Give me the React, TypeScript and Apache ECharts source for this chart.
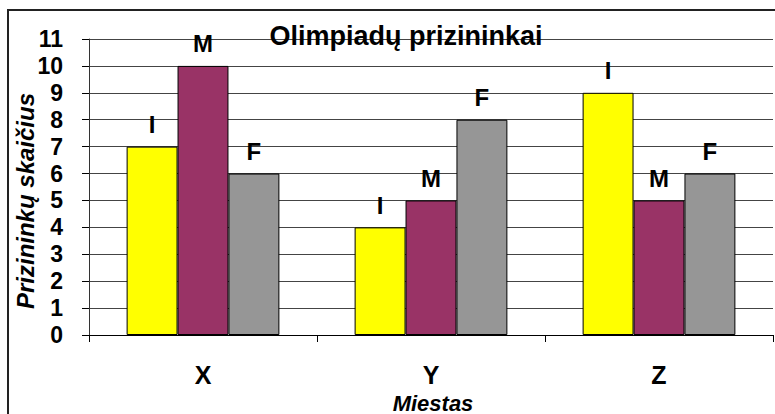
import React, { useEffect, useRef } from "react";
import * as echarts from "echarts";

const categories = ["X", "Y", "Z"];
const seriesNames = ["I", "M", "F"];
const valuesI = [7, 4, 9];
const valuesM = [10, 5, 5];
const valuesF = [6, 8, 6];
const colors = ["#FFFF00", "#993366", "#969696"];

export default function App() {
  const ref = useRef<HTMLDivElement>(null);
  useEffect(() => {
    if (!ref.current) return;
    const chart = echarts.init(ref.current, null, { renderer: "svg" });
    const font = "Liberation Sans, Arial, sans-serif";
    const data = [valuesI, valuesM, valuesF];
    chart.setOption({
      animation: false,
      backgroundColor: "#ffffff",
      textStyle: { fontFamily: font },
      graphic: [
        {
          type: "rect",
          shape: { x: 8, y: 10, width: 800, height: 450 },
          style: { fill: "none", stroke: "#222", lineWidth: 2 },
          silent: true,
          z: -1,
        },
        {
          type: "text",
          x: 25,
          y: 201,
          rotation: Math.PI / 2,
          style: {
            text: "Prizininkų skaičius",
            font: "italic bold 24px Liberation Sans, Arial, sans-serif",
            fill: "#000",
            align: "center",
            verticalAlign: "middle",
          },
        },
        {
          type: "text",
          x: 433,
          y: 403,
          style: {
            text: "Miestas",
            font: "italic bold 22px Liberation Sans, Arial, sans-serif",
            fill: "#000",
            align: "center",
            verticalAlign: "middle",
          },
        },
      ],
      title: {
        text: "Olimpiadų prizininkai",
        left: 401,
        top: 17,
        textAlign: "center",
        textStyle: { fontFamily: font, fontSize: 27, fontWeight: "bold", color: "#000" },
      },
      grid: { left: 89, top: 39, right: 2, bottom: 79, containLabel: false },
      xAxis: {
        type: "category",
        data: categories,
        axisLine: { show: true, lineStyle: { color: "#000", width: 1 } },
        axisTick: { show: true, alignWithLabel: false, length: 7, lineStyle: { color: "#000" } },
        axisLabel: {
          fontFamily: font,
          fontSize: 25,
          fontWeight: "bold",
          color: "#000",
          margin: 27,
        },
      },
      yAxis: {
        type: "value",
        min: 0,
        max: 11,
        interval: 1,
        axisLine: { show: true, lineStyle: { color: "#333", width: 1 } },
        axisTick: { show: true, length: 7, lineStyle: { color: "#000" } },
        splitLine: { show: true, lineStyle: { color: "#444", width: 1 } },
        axisLabel: {
          fontFamily: font,
          fontSize: 23,
          fontWeight: "bold",
          color: "#000",
          margin: 26,
        },
      },
      series: seriesNames.map((name, i) => ({
        name,
        type: "bar",
        data: data[i],
        barGap: "0%",
        barCategoryGap: "33%",
        itemStyle: { color: colors[i], borderColor: "#000", borderWidth: 1 },
        label: {
          show: true,
          position: "top",
          distance: 10,
          formatter: name,
          fontFamily: font,
          fontSize: 24,
          fontWeight: "bold",
          color: "#000",
        },
      })),
    });
    return () => chart.dispose();
  }, []);
  return <div ref={ref} style={{ width: 775, height: 414, position: "absolute", left: 0, top: 0 }} />;
}
